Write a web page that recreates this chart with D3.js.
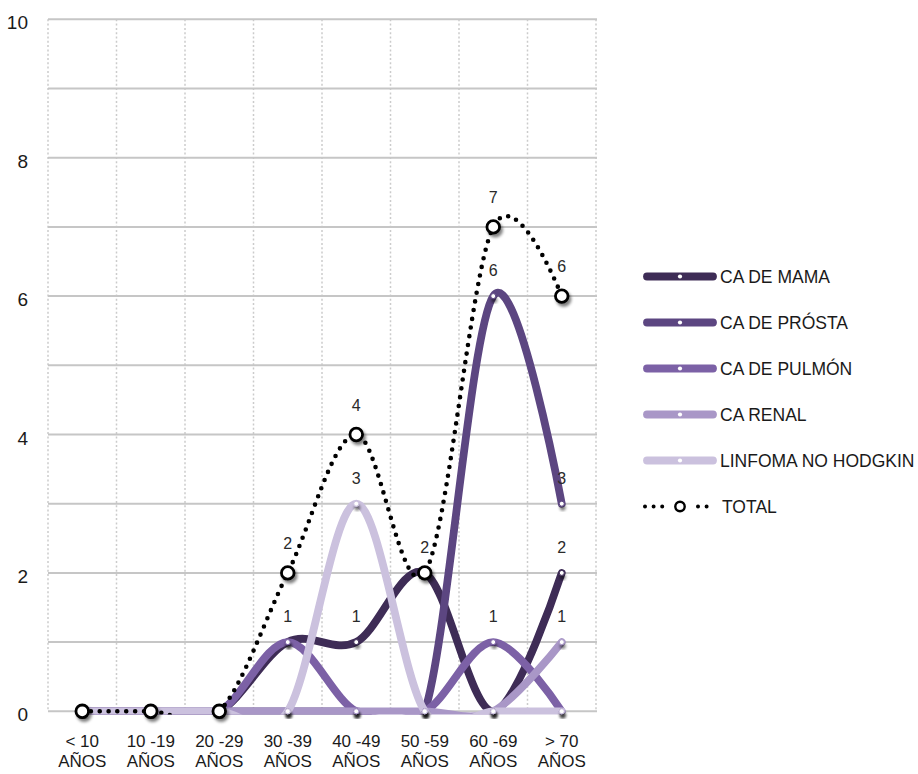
<!DOCTYPE html>
<html>
<head>
<meta charset="utf-8">
<script src="https://cdn.jsdelivr.net/npm/d3@7"></script>
<style>
  html, body { margin: 0; padding: 0; background: #ffffff; }
  svg { display: block; font-family: "Liberation Sans", Arial, Helvetica, sans-serif; }
</style>
</head>
<body>
<svg id="chart" width="918" height="774"></svg>
<script>
// ---- data ----
const ageRanges = ["< 10", "10 -19", "20 -29", "30 -39", "40 -49", "50 -59", "60 -69", "> 70"];
const ageUnit = "AÑOS";
const categories = ageRanges.map(r => r + " " + ageUnit);

const caMama     = [0, 0, 0, 1, 1, 2, 0, 2];
const caProstata = [0, 0, 0, 0, 0, 0, 6, 3];
const caPulmon   = [0, 0, 0, 1, 0, 0, 1, 0];
const caRenal    = [0, 0, 0, 0, 0, 0, 0, 1];
const linfomaNH  = [0, 0, 0, 0, 3, 0, 0, 0];
const totalCasos = [0, 0, 0, 2, 4, 2, 7, 6];

const seriesNames  = ["CA DE MAMA", "CA DE PRÓSTA", "CA DE PULMÓN", "CA RENAL", "LINFOMA NO HODGKIN"];
const seriesValues = [caMama, caProstata, caPulmon, caRenal, linfomaNH];
const seriesColors = ["#3e2c56", "#5c4681", "#7c61a6", "#a997c7", "#cbc1de"];
const totalName = "TOTAL";

const yTicks = [0, 2, 4, 6, 8, 10];
const yGrid = d3.range(0, 11, 1);

// ---- layout ----
const svg = d3.select("#chart");
const plot = { left: 48, right: 596, top: 19.3, bottom: 711.3 };

const x = d3.scaleBand().domain(categories).range([plot.left, plot.right]).padding(0);
const cx = c => x(c) + x.bandwidth() / 2;
const y = d3.scaleLinear().domain([0, 10]).range([plot.bottom, plot.top]);

const defs = svg.append("defs");
defs.append("clipPath").attr("id", "plotClip")
  .append("rect").attr("x", 0).attr("y", 0).attr("width", 918).attr("height", plot.bottom + 3.2);

function shadowFilter(id, dx, dy, blur, opacity) {
  const f = defs.append("filter").attr("id", id)
    .attr("x", "-100%").attr("y", "-100%").attr("width", "300%").attr("height", "300%");
  f.append("feGaussianBlur").attr("in", "SourceAlpha").attr("stdDeviation", blur);
  f.append("feOffset").attr("dx", dx).attr("dy", dy).attr("result", "off");
  f.append("feComponentTransfer").append("feFuncA").attr("type", "linear").attr("slope", opacity);
  const m = f.append("feMerge");
  m.append("feMergeNode");
  m.append("feMergeNode").attr("in", "SourceGraphic");
}
shadowFilter("dotShadow", 0.5, 3.5, 1.4, 0.55);
shadowFilter("ringShadow", 1.5, 3, 1.6, 0.5);

// ---- grid ----
const grid = svg.append("g");
const boundaries = categories.map(c => x(c)).concat([plot.right]);
grid.selectAll("line.v").data(boundaries).join("line")
  .attr("x1", d => d).attr("x2", d => d)
  .attr("y1", plot.top).attr("y2", plot.bottom)
  .attr("stroke", "#cbcbcb").attr("stroke-width", 1.5)
  .attr("stroke-dasharray", "2,2.3");
grid.selectAll("line.h").data(yGrid).join("line")
  .attr("x1", plot.left).attr("x2", plot.right + 1)
  .attr("y1", d => y(d)).attr("y2", d => y(d))
  .attr("stroke", "#c6c6c6").attr("stroke-width", 2);

// ---- axes ----
const yAxis = svg.append("g")
  .attr("transform", `translate(${plot.left},0)`)
  .call(d3.axisLeft(y).tickValues(yTicks).tickSize(0).tickPadding(20).tickFormat(d3.format("d")));
yAxis.select(".domain").remove();
yAxis.selectAll("text")
  .attr("font-size", 19).attr("fill", "#1a1a1a")
  .attr("font-family", "\"Liberation Sans\", Arial, sans-serif")
  .attr("dy", "0.5em");

const xAxis = svg.append("g")
  .attr("transform", `translate(0,${plot.bottom})`)
  .call(d3.axisBottom(x).tickSize(0).tickPadding(0));
xAxis.select(".domain").remove();
xAxis.selectAll(".tick text").each(function (d, i) {
  const t = d3.select(this).text(null)
    .attr("font-size", 17).attr("fill", "#1a1a1a")
    .attr("font-family", "\"Liberation Sans\", Arial, sans-serif")
    .attr("y", 0).attr("dy", null);
  t.append("tspan").attr("x", 0).attr("y", 36).text(ageRanges[i]);
  t.append("tspan").attr("x", 0).attr("y", 56).text(ageUnit);
});

// ---- series lines ----
const lineGen = d3.line()
  .x((v, i) => cx(categories[i]))
  .y(v => y(v))
  .curve(d3.curveCatmullRom.alpha(0));

const lines = svg.append("g").attr("clip-path", "url(#plotClip)");
seriesValues.forEach((vals, s) => {
  lines.append("path")
    .datum(vals)
    .attr("d", lineGen)
    .attr("fill", "none")
    .attr("stroke", seriesColors[s])
    .attr("stroke-width", 7.8)
    .attr("stroke-linecap", "round")
    .attr("stroke-linejoin", "round");
});

const markers = svg.append("g");
seriesValues.forEach((vals, s) => {
  markers.append("g").selectAll("circle").data(vals).join("circle")
    .attr("cx", (v, i) => cx(categories[i]))
    .attr("cy", v => y(v))
    .attr("r", 2.5)
    .attr("fill", "#ffffff")
    .attr("stroke", seriesColors[s])
    .attr("stroke-width", 1)
    .attr("filter", "url(#dotShadow)");
});

// ---- total ----
lines.append("path")
  .datum(totalCasos)
  .attr("d", lineGen)
  .attr("fill", "none")
  .attr("stroke", "#000000")
  .attr("stroke-width", 4.6)
  .attr("stroke-linecap", "round")
  .attr("stroke-dasharray", "0,8.8");

svg.append("g").selectAll("circle").data(totalCasos).join("circle")
  .attr("cx", (v, i) => cx(categories[i]))
  .attr("cy", v => y(v))
  .attr("r", 6.3)
  .attr("fill", "#ffffff")
  .attr("stroke", "#000000")
  .attr("stroke-width", 2.8)
  .attr("filter", "url(#ringShadow)");

// ---- value labels ----
const labels = [];
function addLabel(i, v, offset) {
  if (v === 0) return;
  const lx = cx(categories[i]), ly = y(v) - offset;
  const txt = String(v);
  if (labels.some(l => l.x === lx && l.t === txt && Math.abs(l.y - ly) < 8)) return;
  labels.push({ x: lx, y: ly, t: txt });
}
seriesValues.forEach(vals => vals.forEach((v, i) => addLabel(i, v, 20)));
totalCasos.forEach((v, i) => addLabel(i, v, 24));

svg.append("g").selectAll("text").data(labels).join("text")
  .attr("x", d => d.x)
  .attr("y", d => d.y)
  .attr("text-anchor", "middle")
  .attr("font-size", 16)
  .attr("fill", "#2a2a2a")
  .text(d => d.t);

// ---- legend ----
const legend = svg.append("g");
const legY0 = 276.5, legStep = 46;
seriesNames.forEach((name, s) => {
  const ly = legY0 + s * legStep;
  legend.append("line")
    .attr("x1", 647).attr("x2", 713).attr("y1", ly).attr("y2", ly)
    .attr("stroke", seriesColors[s]).attr("stroke-width", 7.8).attr("stroke-linecap", "round");
  legend.append("circle").attr("cx", 680).attr("cy", ly).attr("r", 2.1)
    .attr("fill", "#ffffff");
  legend.append("text").attr("x", 720).attr("y", ly).attr("dy", "0.36em")
    .attr("font-size", 17.5).attr("fill", "#1a1a1a").text(name);
});
{
  const ly = legY0 + seriesNames.length * legStep;
  [[645, 662], [698, 707]].forEach(([a, b]) => {
    legend.append("line")
      .attr("x1", a).attr("x2", b + 0.5).attr("y1", ly).attr("y2", ly)
      .attr("stroke", "#000").attr("stroke-width", 4)
      .attr("stroke-linecap", "round").attr("stroke-dasharray", "0,8.6");
  });
  legend.append("circle").attr("cx", 680).attr("cy", ly).attr("r", 4.7)
    .attr("fill", "#ffffff").attr("stroke", "#000").attr("stroke-width", 2.4);
  legend.append("text").attr("x", 722).attr("y", ly).attr("dy", "0.36em")
    .attr("font-size", 17.5).attr("fill", "#1a1a1a").text(totalName);
}
</script>
</body>
</html>
